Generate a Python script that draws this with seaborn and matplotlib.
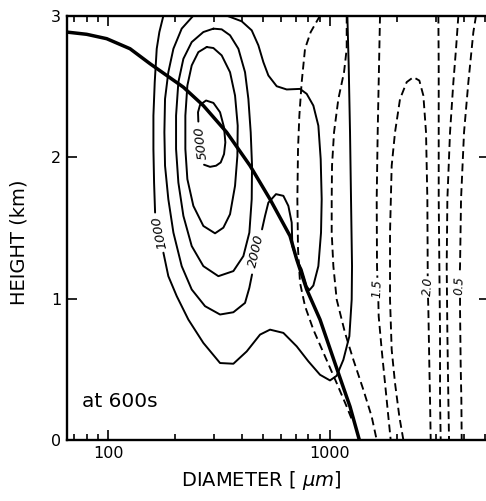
import numpy as np
import pandas as pd
import matplotlib
matplotlib.use("Agg")
import matplotlib.pyplot as plt
import seaborn as sns
from matplotlib.ticker import LogLocator, NullFormatter

sns.set_theme(style="white")
plt.rcParams['font.family'] = ['DejaVu Sans']

# ---------------- data (diameter in micrometres, height in km) ----------------
thick_d = [65, 80.1, 98.6, 125.6, 154.6, 218.5, 268.8, 342.4, 436.3, 536.8, 660.6, 707.9, 785.3, 901.8, 1090.7, 1231, 1356]
thick_h = [2.884, 2.868, 2.837, 2.766, 2.660, 2.494, 2.364, 2.175, 1.939, 1.702, 1.442, 1.277, 1.064, 0.851, 0.473, 0.236, 0.0]

c1000_a_d = [177.6, 170.3, 165.7, 162.3, 160.1, 160.1, 161.2, 162.9]
c1000_a_h = [3.0, 2.884, 2.766, 2.530, 2.293, 2.057, 1.820, 1.608]
c1000_b_d = [177.6, 186.9, 203.9, 230.1, 268.8, 319.6, 367.0, 421.4, 484.0, 536.8, 616.5, 707.9, 799, 901.8,
             1000, 1072, 1148.8, 1222.5, 1252.5, 1256.8, 1243.8, 1231, 1214.1, 1197.4]
c1000_b_h = [1.324, 1.158, 1.017, 0.851, 0.686, 0.544, 0.539, 0.626, 0.745, 0.780, 0.757, 0.662, 0.556, 0.461,
             0.421, 0.454, 0.567, 0.733, 0.993, 1.229, 1.702, 2.175, 2.648, 3.0]

c2000_a_d = [242.3, 214.7, 197.0, 186.9, 180.6, 179.4, 180.6, 186.9, 197.0, 214.7, 238.2, 273.5, 319.6, 367.0, 414.2, 433.2, 445.4]
c2000_a_h = [3.0, 2.908, 2.766, 2.600, 2.411, 2.175, 1.939, 1.702, 1.466, 1.229, 1.064, 0.946, 0.887, 0.903, 0.969, 1.076, 1.170]
c2000_b_d = [494.1, 509.7, 527.6, 571.2, 616.5, 649.2, 672.1, 676.8, 707.9, 745.6, 785.3, 807.3, 841.5, 886.3, 911.1,
             917.5, 908.0, 886.3, 841.5, 785.3, 732.8, 638.1, 575.2, 527.6, 501.0, 475.7, 443.9, 400.1, 342.4]
c2000_b_h = [1.489, 1.584, 1.678, 1.738, 1.726, 1.655, 1.537, 1.371, 1.277, 1.206, 1.087, 1.059, 1.092, 1.229, 1.466,
             1.702, 1.986, 2.222, 2.364, 2.447, 2.482, 2.478, 2.501, 2.577, 2.671, 2.790, 2.896, 2.960, 3.0]

c3000_d = [298.3, 268.8, 238.2, 218.5, 207.4, 202.5, 202.5, 207.4, 218.5, 238.2, 268.8, 314.1, 367.0, 407.1, 433.2,
           443.9, 445.4, 439.3, 428.8, 414.2, 386.5, 354.5, 325.1, 298.3]
c3000_h = [2.908, 2.884, 2.813, 2.695, 2.530, 2.293, 2.057, 1.820, 1.584, 1.371, 1.229, 1.158, 1.194, 1.300, 1.466,
           1.702, 1.939, 2.175, 2.411, 2.600, 2.766, 2.861, 2.903, 2.908]

c4000_d = [278.3, 255.2, 238.2, 227.7, 223.0, 223.0, 227.7, 242.3, 268.8, 303.4, 330.8, 354.5, 373.4, 382.6, 383.9,
           373.4, 354.5, 325.1, 298.3, 278.3]
c4000_h = [2.778, 2.742, 2.648, 2.506, 2.293, 2.057, 1.844, 1.655, 1.513, 1.461, 1.501, 1.596, 1.797, 2.009, 2.222,
           2.435, 2.600, 2.719, 2.771, 2.778]

c5000_d = [270.7, 288.1, 306.6, 321.8, 333.1, 337.7, 333.1, 319.6, 298.3, 276.4, 259.7, 254.3, 255.2]
c5000_h = [1.946, 1.931, 1.939, 1.962, 2.021, 2.104, 2.210, 2.317, 2.383, 2.400, 2.369, 2.317, 2.251]

d1_d = [901.8, 818.6, 771.8, 745.6, 727.7, 717.7, 712.8, 717.7, 732.8, 771.8, 841.5, 949.8, 1072, 1189.2, 1265.5]
d1_h = [3.0, 2.884, 2.766, 2.530, 2.293, 2.057, 1.702, 1.348, 1.111, 0.946, 0.780, 0.591, 0.402, 0.236, 0.130]

d2_d = [1189.2, 1189.2, 1156.8, 1090.7, 1042.8, 1021.3, 1017.8, 1017.8, 1035.6, 1072, 1168.9, 1274.4, 1413.7, 1541.3, 1623.4]
d2_h = [3.0, 2.766, 2.600, 2.411, 2.175, 1.939, 1.702, 1.466, 1.229, 0.993, 0.757, 0.567, 0.355, 0.165, 0.0]

d15_a_d = [1680.5, 1663.1, 1640.2, 1623.4, 1628.9, 1634.7]
d15_a_h = [3.0, 2.648, 2.175, 1.702, 1.229, 1.147]
d15_b_d = [1651.7, 1657.3, 1709.7, 1769.9, 1832.1, 1877.1]
d15_b_h = [0.981, 0.875, 0.638, 0.402, 0.165, 0.0]

du_a_d = [2140.8, 2053.6, 1963.4, 1896.6, 1864.1, 1864.1, 1896.6, 1963.4, 2068.1, 2216.2, 2375.0, 2527.2, 2634.6,
          2708.2, 2746.1, 2755.6, 2755.6]
du_a_h = [0.0, 0.165, 0.402, 0.638, 0.993, 1.466, 1.939, 2.175, 2.411, 2.530, 2.565, 2.541, 2.435,
          2.175, 1.702, 1.229, 1.158]
du_b_d = [2765.2, 2774.8, 2803.6, 2823.3, 2842.8]
du_b_h = [1.005, 0.922, 0.520, 0.284, 0.0]

d5_d = [3078.3, 3089, 3089, 3089, 3110.1, 3132.0, 3132.0, 3153.6]
d5_h = [3.0, 2.648, 2.175, 1.702, 1.229, 0.757, 0.284, 0.0]

d6_d = [3788.3, 3697.4, 3596.8, 3474.4, 3379.5, 3356.3, 3379.5, 3414.7, 3438.4]
d6_h = [3.0, 2.766, 2.530, 2.175, 1.702, 1.229, 0.757, 0.284, 0.0]

d05_a_d = [4550.1, 4426.2, 4202.2, 4017.7, 3894.4, 3854.4, 3841.1]
d05_a_h = [3.0, 2.884, 2.530, 2.175, 1.702, 1.229, 1.170]
d05_b_d = [3854.4, 3854.4, 3881.0, 3907.9, 3921.4]
d05_b_h = [1.005, 0.922, 0.520, 0.284, 0.0]

label_text = ["1000", "2000", "5000", "1.5", "2.0", "0.5"]
label_d = [169.7, 467.5, 262.4, 1640, 2756, 3827]
label_h = [1.466, 1.336, 2.099, 1.069, 1.083, 1.092]
label_rot = [102, 77, 97, 88, 86, 88]
label_size = [9.5, 9.5, 9.5, 8.5, 8.5, 8.5]

x_ticks = [100, 1000]
x_ticklabels = ["100", "1000"]
y_ticks = [0, 1, 2, 3]

# ---------------- figure ----------------
fig = plt.figure(figsize=(4.86, 5.01), dpi=100)
ax = fig.add_axes([0.1372, 0.1218, 0.868, 0.847])
ax.set_xscale("log")

solid = [(c1000_a_d, c1000_a_h), (c1000_b_d, c1000_b_h), (c2000_a_d, c2000_a_h), (c2000_b_d, c2000_b_h),
         (c3000_d, c3000_h), (c4000_d, c4000_h), (c5000_d, c5000_h)]
dashed = [(d1_d, d1_h), (d2_d, d2_h), (d15_a_d, d15_a_h), (d15_b_d, d15_b_h), (du_a_d, du_a_h), (du_b_d, du_b_h),
          (d5_d, d5_h), (d6_d, d6_h), (d05_a_d, d05_a_h), (d05_b_d, d05_b_h)]

for xd, yd in solid:
    sns.lineplot(x=xd, y=yd, sort=False, estimator=None, color="black", lw=1.4, ax=ax)
for xd, yd in dashed:
    sns.lineplot(x=xd, y=yd, sort=False, estimator=None, color="black", lw=1.35,
                 linestyle=(0, (4.2, 2.4)), ax=ax)
sns.lineplot(x=thick_d, y=thick_h, sort=False, estimator=None, color="black", lw=2.5, ax=ax)

for t, xd, yd, r, s in zip(label_text, label_d, label_h, label_rot, label_size):
    ax.text(xd, yd, t, rotation=r, rotation_mode="anchor", ha="center", va="center",
            fontsize=s, style="italic", color="black")

ax.text(0.036, 0.078, "at 600s", transform=ax.transAxes, fontsize=14.5, va="baseline", color="black")

ax.set_xlim(65.1, 5180)
ax.set_ylim(0, 3)
ax.set_xticks(x_ticks)
ax.set_xticklabels(x_ticklabels)
ax.xaxis.set_minor_locator(LogLocator(base=10, subs=np.arange(2, 10)))
ax.xaxis.set_minor_formatter(NullFormatter())
ax.set_yticks(y_ticks)
ax.set_yticklabels([str(v) for v in y_ticks])

ax.tick_params(which="both", direction="in", top=True, right=True, bottom=True, left=True,
               color="black", width=1.2, labelsize=11.5, labelcolor="black")
ax.tick_params(which="major", length=7, pad=4)
ax.tick_params(which="minor", length=4)

for sp in ax.spines.values():
    sp.set_visible(True)
    sp.set_color("black")
    sp.set_linewidth(1.7)

ax.set_xlabel(r"DIAMETER $\left[\ \mu m\right]$", fontsize=14, color="black")
ax.set_ylabel("HEIGHT (km)", fontsize=14, color="black")
ax.xaxis.set_label_coords(0.462, -0.068)
ax.yaxis.set_label_coords(-0.091, 0.467)

fig.savefig("out.png", dpi=100, facecolor="white")
